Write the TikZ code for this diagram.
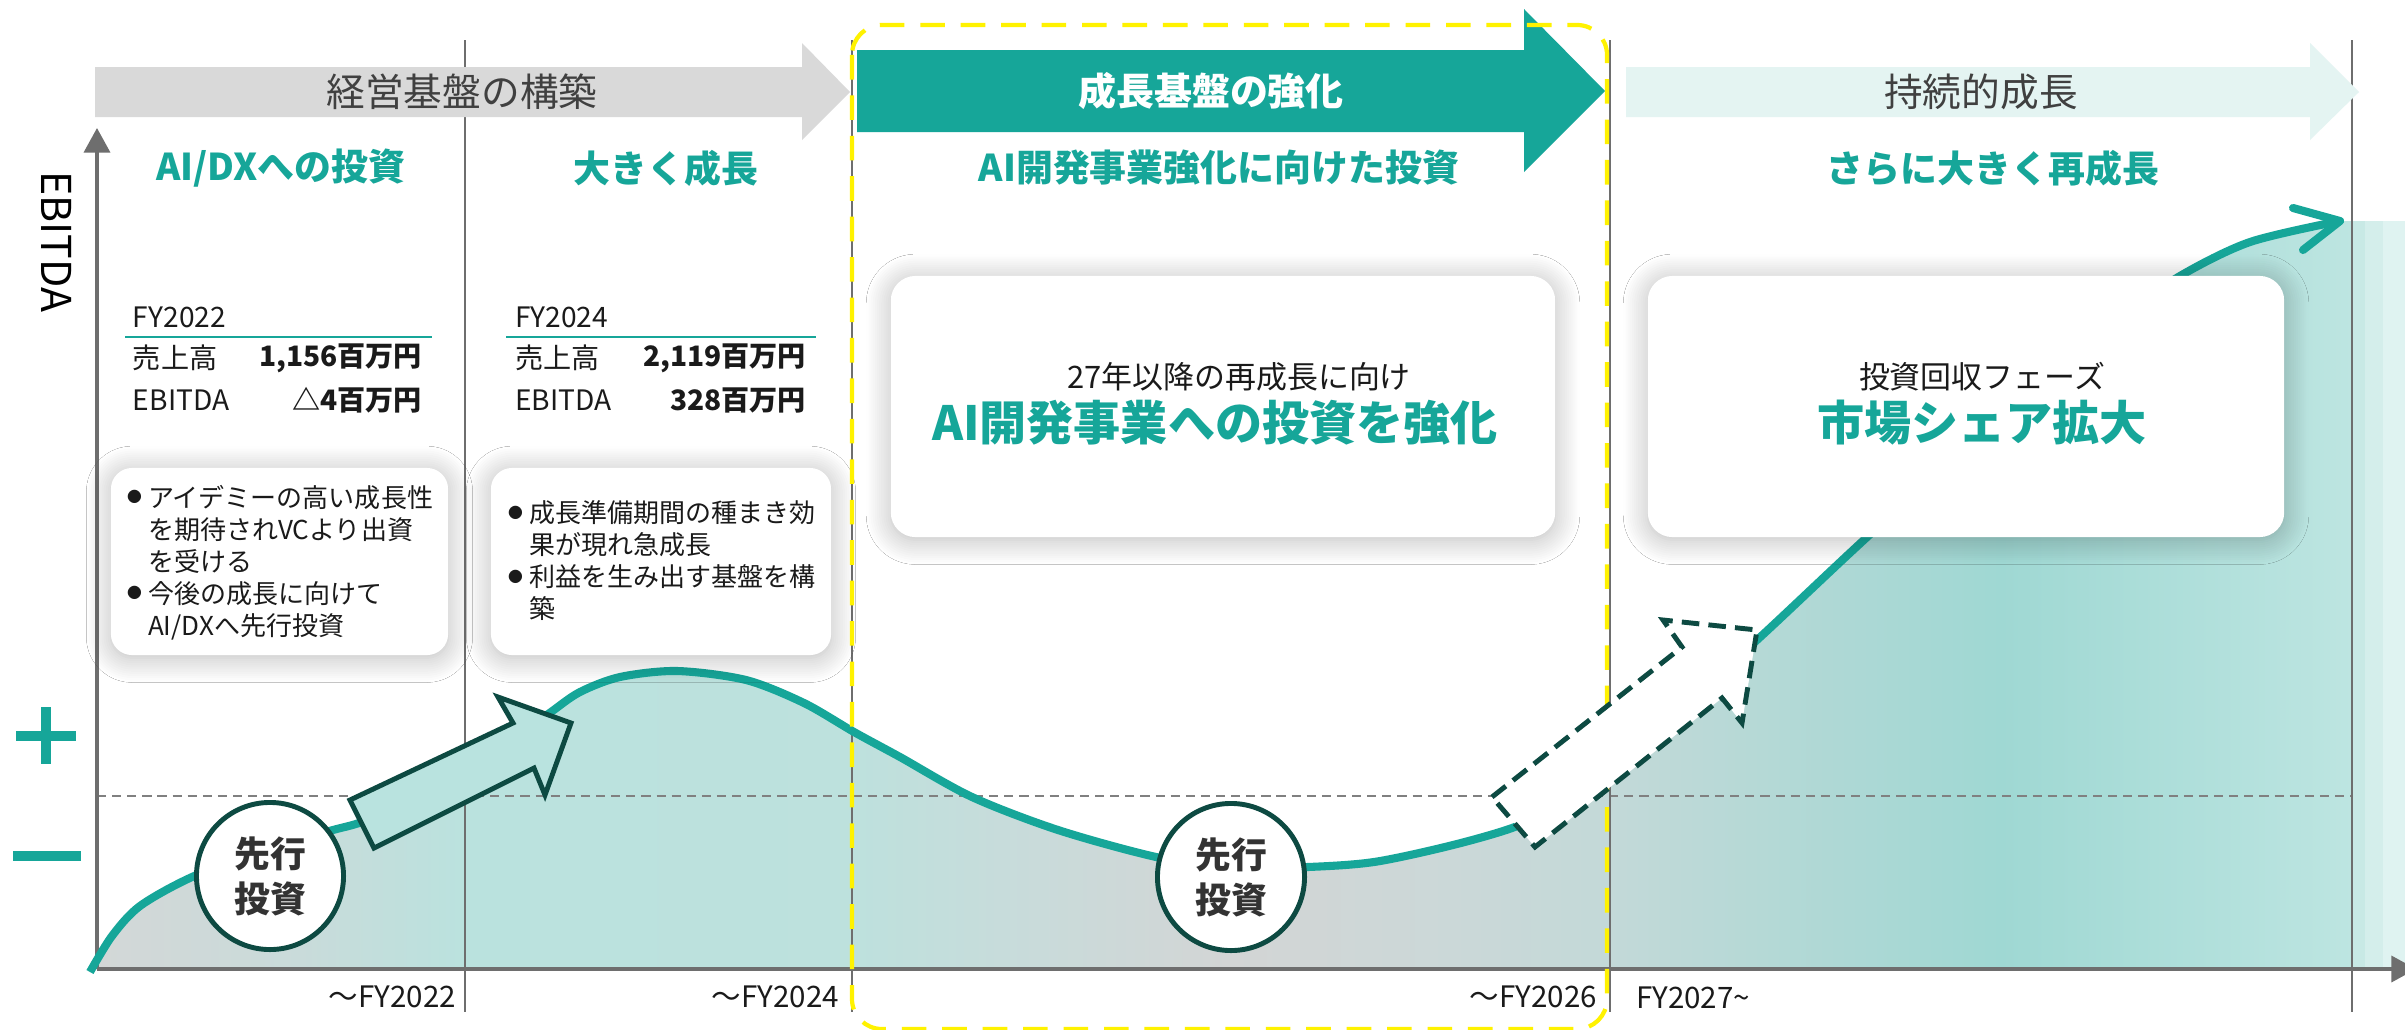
\documentclass[tikz,border=0pt]{standalone}
\usepackage{fontspec}
\setmainfont{Noto Sans CJK JP}
\usetikzlibrary{arrows.meta,shadows.blur}
\definecolor{tealc}{HTML}{16A699}
\definecolor{dkg}{HTML}{0D4A42}
\definecolor{axg}{HTML}{6E6E6E}
\definecolor{zerog}{HTML}{808080}
\definecolor{hdrg}{HTML}{D9D9D9}
\definecolor{hdrl}{HTML}{E4F4F2}
\definecolor{txg}{HTML}{404040}
\definecolor{txd}{HTML}{1A1A1A}
\definecolor{arrf}{HTML}{B9E3DF}
\definecolor{bubtx}{HTML}{333333}
\definecolor{ga}{HTML}{D4D7D7}
\definecolor{gb}{HTML}{C9DBDA}
\definecolor{gc}{HTML}{BAE2DE}
\definecolor{gd}{HTML}{BDE1DD}
\definecolor{ge}{HTML}{C7DCDB}
\definecolor{gf}{HTML}{D3D5D5}
\definecolor{gg}{HTML}{CBD8D8}
\definecolor{gh}{HTML}{C3D9D8}
\definecolor{gi}{HTML}{9FD8D3}
\definecolor{gj}{HTML}{BDE5E1}
\definecolor{gk}{HTML}{C8E9E5}
\definecolor{gl}{HTML}{D4EEEB}
\definecolor{gm}{HTML}{DFF3F1}
\newcommand\fsz[2]{\fontsize{#1}{#2}\selectfont}
\newcommand\bul{\makebox[6pt][l]{\raisebox{1.3pt}{\fsz{4.2pt}{5pt}●}}}
\begin{document}
\begin{tikzpicture}[x=0.01cm,y=-0.01cm,
  every node/.style={inner sep=0pt,outer sep=0pt},
  sepline/.style={draw=axg,line width=0.65pt},
  axisline/.style={draw=axg,line width=1pt,-{Triangle[length=7pt,width=7.4pt]}},
  hdrtxt/.style={text=txg,font=\fsz{11pt}{13pt}},
  secttxt/.style={text=tealc,font=\bfseries\fsz{10.5pt}{12pt}},
  lbl/.style={text=txd,font=\fsz{8pt}{10pt}},
  valtxt/.style={text=txd,font=\bfseries\fsz{8pt}{10pt}},
  xlbl/.style={text=txd,font=\fsz{8.4pt}{10pt}},
  card/.style={fill=white,rounded corners=6pt,blur shadow={shadow xshift=0pt,shadow yshift=-0.8pt,shadow blur radius=7pt,shadow opacity=28,shadow scale=1.0,shadow blur steps=12}},
  bubble/.style={circle,draw=dkg,line width=1.4pt,fill=white,minimum size=1.47cm,align=center,text=bubtx,font=\bfseries\fsz{10.2pt}{12.8pt}},
  bigsub/.style={text=txd,font=\fsz{8.8pt}{10pt}},
  bigmain/.style={text=tealc,font=\bfseries\fsz{13.4pt}{15pt}},
  notes/.style={text=txd,font=\fsz{7.4pt}{9.1pt},anchor=west},
  curveline/.style={draw=tealc,line width=2.3pt}
]
\useasboundingbox (0,0) rectangle (2405,1030);
\fill[white] (0,0) rectangle (2405,1030);

% area under the curve
\begin{scope}
\clip plot[smooth,tension=0.5] coordinates {(90,972) (112,936) (140,906) (192,877) (270,847) (333,830) (362,822) (420,800) (470,773) (520,735) (551,712) (580,692) (620,677) (677,671) (746,680) (804,703) (854,732) (900,757) (972,797) (1058,830) (1156,857) (1230,868) (1308,867) (1374,862) (1449,846) (1512,828) (1560,806) (1600,779) (1680,708) (1757,640) (1852,551) (1950,461) (2050,372) (2120,318) (2180,276) (2250,242) (2340,221)} -- (2405,221) -- (2405,969) -- (97,969) -- cycle;
\shade[left color=ga,right color=gb] (80,200) rectangle (301,990);
\shade[left color=gb,right color=gc] (300,200) rectangle (466,990);
\shade[left color=gc,right color=gd] (465,200) rectangle (851,990);
\shade[left color=gd,right color=ge] (850,200) rectangle (1001,990);
\shade[left color=ge,right color=gf] (1000,200) rectangle (1231,990);
\shade[left color=gf,right color=gg] (1230,200) rectangle (1451,990);
\shade[left color=gg,right color=gh] (1450,200) rectangle (1611,990);
\shade[left color=gh,right color=gi] (1610,200) rectangle (2001,990);
\shade[left color=gi,right color=gj] (2000,200) rectangle (2353,990);
\fill[gk] (2352,200) rectangle (2366,990);
\fill[gl] (2365,200) rectangle (2384,990);
\fill[gm] (2383,200) rectangle (2405,990);
\end{scope}

% zero line
\coordinate (zl) at (97,796);
\coordinate (zr) at (2352,796);
\draw[zerog,line width=0.6pt,dash pattern=on 2.6pt off 1.7pt] (zl) -- (zr);

% separators
\foreach \sx/\nm in {465/a,852/b,1610/c,2352/d}{
  \coordinate (s\nm t) at (\sx,40);
  \coordinate (s\nm b) at (\sx,1012);
  \draw[sepline] (s\nm t) -- (s\nm b);
}

% axes
\coordinate (O) at (97,969);
\coordinate (ytop) at (97,128);
\coordinate (xend) at (2416,969);
\draw[axisline] (O) -- (ytop);
\draw[axisline] (O) -- (xend);

% plus / minus
\fill[tealc] (16,731) rectangle (76,741);
\fill[tealc] (41,707) rectangle (51,764);
\fill[tealc] (13,851) rectangle (81,861);

% curve
\draw[curveline] plot[smooth,tension=0.5] coordinates {(90,972) (112,936) (140,906) (192,877) (270,847) (333,830) (362,822) (420,800) (470,773) (520,735) (551,712) (580,692) (620,677) (677,671) (746,680) (804,703) (854,732) (900,757) (972,797) (1058,830) (1156,857) (1230,868) (1308,867) (1374,862) (1449,846) (1512,828) (1560,806) (1600,779) (1680,708) (1757,640) (1852,551) (1950,461) (2050,372) (2120,318) (2180,276) (2250,242) (2340,221)};
\coordinate (ctip) at (2340,221);
\coordinate (cb1) at (2293,208);
\coordinate (cb2) at (2303,250);
\draw[curveline,line cap=round,line join=round] (cb1) -- (ctip) -- (cb2);

% header arrows
\fill[hdrg] (95,67) -- (802,67) -- (802,43) -- (850,92) -- (802,140) -- (802,117) -- (95,117) -- cycle;
\fill[tealc] (857,50) -- (1524,50) -- (1524,9) -- (1605,91) -- (1524,172) -- (1524,132) -- (857,132) -- cycle;
\fill[hdrl] (1626,67) -- (2310,67) -- (2310,43) -- (2359,92) -- (2310,140) -- (2310,117) -- (1626,117) -- cycle;
\node[hdrtxt] (h1) at (462,92) {経営基盤の構築};
\node[text=white,font=\bfseries\fsz{10.8pt}{12pt}] (h2) at (1211,91) {成長基盤の強化};
\node[hdrtxt] (h3) at (1981,92) {持続的成長};

% section titles
\node[secttxt] (t1) at (281,168) {AI/DXへの投資};
\node[secttxt] (t2) at (666,168) {大きく成長};
\node[secttxt] (t3) at (1219,168) {AI開発事業強化に向けた投資};
\node[secttxt] (t4) at (1993,168) {さらに大きく再成長};

% EBITDA axis label
\node[rotate=-90,text=black,font=\fsz{11.7pt}{13pt}] (ylab) at (57,242) {EBITDA};

% FY blocks
\node[lbl,anchor=west] (fy1) at (133,317) {FY2022};
\coordinate (u1l) at (125,337);
\coordinate (u1r) at (432,337);
\draw[tealc,line width=0.5pt] (u1l) -- (u1r);
\node[lbl,anchor=west] (s1) at (133,358) {売上高};
\node[valtxt,anchor=east] (v1) at (422,358) {1,156百万円};
\node[lbl,anchor=west] (e1) at (133,400) {EBITDA};
\node[valtxt,anchor=east] (w1) at (422,400) {△4百万円};

\node[lbl,anchor=west] (fy2) at (515,317) {FY2024};
\coordinate (u2l) at (506,337);
\coordinate (u2r) at (816,337);
\draw[tealc,line width=0.5pt] (u2l) -- (u2r);
\node[lbl,anchor=west] (s2) at (515,358) {売上高};
\node[valtxt,anchor=east] (v2) at (806,358) {2,119百万円};
\node[lbl,anchor=west] (e2) at (515,400) {EBITDA};
\node[valtxt,anchor=east] (w2) at (806,400) {328百万円};

% cards
\node[card,minimum width=3.37cm,minimum height=1.87cm] (card1) at (279.5,561.5) {};
\node[card,minimum width=3.40cm,minimum height=1.87cm] (card2) at (661,561.5) {};
\node[card,rounded corners=7pt,minimum width=6.64cm,minimum height=2.61cm] (card3) at (1223,406.5) {};
\node[card,rounded corners=7pt,minimum width=6.36cm,minimum height=2.61cm] (card4) at (1966,406.5) {};

\node[notes] (n1) at (127,565) {\begin{tabular}{@{}l@{}l@{}}\bul&アイデミーの高い成長性\\&を期待されVCより出資\\&を受ける\\\bul&今後の成長に向けて\\&AI/DXへ先行投資\end{tabular}};
\node[notes] (n2) at (508,564.5) {\begin{tabular}{@{}l@{}l@{}}\bul&成長準備期間の種まき効\\&果が現れ急成長\\\bul&利益を生み出す基盤を構\\&築\end{tabular}};

\node[bigsub] (b3s) at (1239,377) {27年以降の再成長に向け};
\node[bigmain] (b3m) at (1215,423) {AI開発事業への投資を強化};
\node[bigsub] (b4s) at (1982,377) {投資回収フェーズ};
\node[bigmain] (b4m) at (1982,423) {市場シェア拡大};

% solid block arrow
\draw[dkg,fill=arrf,line width=1.4pt,line join=miter] (350,800) -- (513,723) -- (498,697) -- (571,723) -- (545,795) -- (534,768) -- (374,848) -- cycle;

% bubbles
\node[bubble] (bub1) at (270,876) {先行\\投資};
\node[bubble] (bub2) at (1231,877) {先行\\投資};

% x labels
\node[xlbl,anchor=east] (x1) at (456,997) {～FY2022};
\node[xlbl,anchor=east] (x2) at (839,997) {～FY2024};
\node[xlbl,anchor=east] (x3) at (1597,997) {～FY2026};
\node[xlbl,anchor=west] (x4) at (1636,998) {FY2027\textasciitilde};

% yellow dashed frame
\draw[yellow,line width=1.2pt,dash pattern=on 7pt off 4.5pt,rounded corners=8.5pt] (852,25) rectangle (1607,1029);

% dashed block arrow
\draw[dkg,fill=white,line width=1.4pt,dash pattern=on 5pt off 2.6pt,line join=miter] (1492,797) -- (1682,647) -- (1663,620) -- (1757,630) -- (1742,723) -- (1722,698) -- (1535,847) -- cycle;
\end{tikzpicture}
\end{document}
